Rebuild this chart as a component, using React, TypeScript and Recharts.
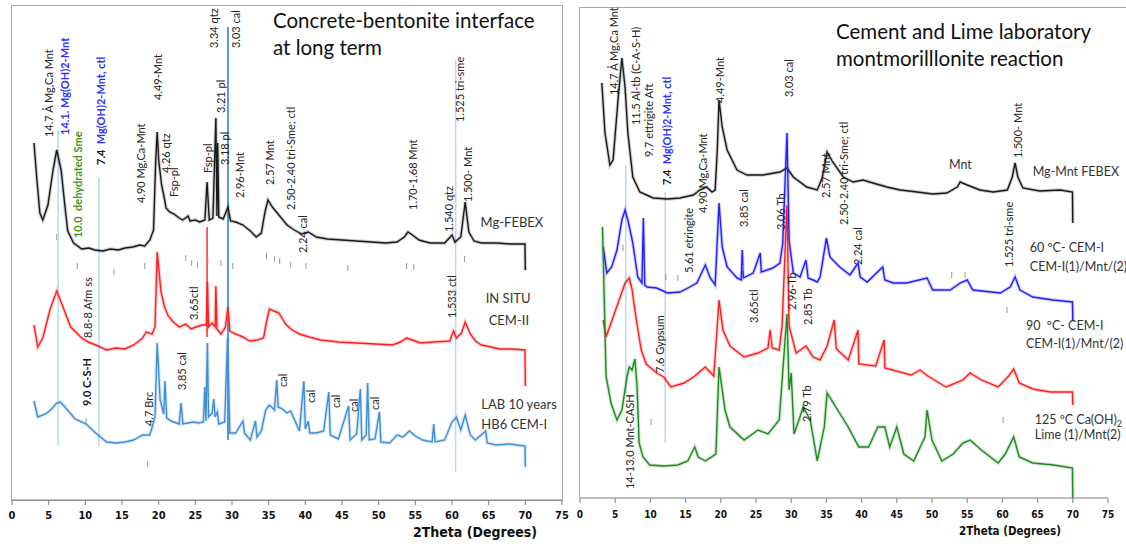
import React from "react";
import { ComposedChart, Line, Scatter, XAxis, YAxis, ReferenceLine } from "recharts";

// XRD patterns. x = 2Theta (deg), y = intensity (arbitrary units, stacked).
type Pt = [number, number];

const TICKS = [0, 5, 10, 15, 20, 25, 30, 35, 40, 45, 50, 55, 60, 65, 70, 75];

// ---- left panel: concrete-bentonite interface ----
const leftFebex: Pt[] = [
  [3.0, 354], [3.4, 317], [3.8, 284], [4.2, 277], [4.9, 292], [5.6, 327], [6.1, 347], [6.7, 327], [7.2, 292],
  [7.6, 266], [8.4, 254], [9.5, 248], [10.5, 249], [11.3, 247], [12.4, 246], [13.4, 248], [14.5, 247], [15.4, 249],
  [16.5, 250], [17.4, 252], [18.1, 251], [18.8, 257], [19.3, 267], [19.6, 337], [19.8, 365], [20.0, 337], [20.4, 312],
  [20.85, 296], [21.0, 289], [21.5, 285], [22.1, 283], [22.8, 279], [23.3, 277], [24.0, 281], [24.3, 276], [25.0, 277],
  [25.6, 275], [26.3, 277], [26.6, 315], [26.9, 277], [27.4, 279], [27.8, 379], [27.95, 281], [28.05, 354], [28.2, 280],
  [28.8, 278], [29.45, 290], [29.8, 276], [30.5, 275], [31.5, 272], [32.5, 266], [33.3, 260], [34.0, 264], [34.5, 285],
  [34.9, 297], [35.5, 290], [36.5, 281], [37.5, 272], [38.5, 267], [39.5, 263], [40.4, 265], [41.5, 260], [43, 258],
  [45, 257], [47, 256], [49, 255], [51, 254], [52.5, 255], [53.5, 260], [54, 265], [54.6, 262], [55.5, 257], [57, 254],
  [59, 254], [60.0, 262], [60.4, 255], [61.2, 260], [61.8, 295], [62.3, 265], [63, 256], [64, 254], [66, 254],
  [68, 253], [69.95, 253], [70.0, 227],
];
const leftInSitu: Pt[] = [
  [3.0, 172], [3.5, 150], [4.2, 159], [5.2, 188], [6.1, 206], [6.9, 191], [8.0, 170], [9.5, 159], [10.4, 155],
  [11.4, 152], [12.9, 147], [14.2, 149], [15.4, 148], [16.6, 152], [17.8, 159], [18.3, 165], [19.1, 163], [19.5, 170],
  [19.8, 245], [20.3, 206], [20.8, 190], [21.3, 181], [22.0, 175], [22.8, 170], [23.7, 173], [24.4, 168], [25.1, 170],
  [25.9, 172], [26.5, 172], [26.65, 215], [26.8, 170], [27.3, 174], [27.7, 170], [27.8, 211], [27.95, 168], [28.5, 163],
  [29.1, 170], [29.45, 190], [29.7, 166], [30.5, 163], [31.5, 160], [32.4, 156], [33.4, 157], [34.3, 159], [34.7, 175],
  [35.1, 188], [35.7, 186], [36.4, 184], [37.3, 173], [38.2, 167], [39.2, 163], [40.5, 160], [42.1, 157], [44.5, 155],
  [47, 154], [49.5, 153], [51.9, 152], [53.0, 155], [53.8, 159], [54.6, 157], [55.7, 154], [57.5, 155], [59.7, 156],
  [60.2, 166], [60.6, 159], [61.3, 164], [61.8, 175], [62.5, 163], [63.2, 156], [64, 152], [65.3, 150], [66.5, 148],
  [68.2, 148], [69.95, 147], [70.0, 111],
];
const leftLab: Pt[] = [
  [3.0, 96], [3.5, 80], [4.6, 83], [5.4, 88], [6.1, 94], [6.6, 95], [7.1, 91], [8.6, 78], [10.1, 73], [11.4, 64],
  [12.9, 55], [14.2, 54], [15.4, 55], [16.6, 57], [17.8, 62], [18.8, 62], [19.5, 80], [19.8, 154], [20.2, 97],
  [20.7, 83], [20.85, 116], [21.1, 79], [21.7, 76], [22.8, 73], [23.05, 94], [23.3, 73], [24.0, 74], [24.7, 75],
  [25.5, 74], [26.1, 75], [26.3, 110], [26.45, 76], [26.65, 154], [26.8, 80], [27.3, 84], [27.5, 98], [27.7, 80],
  [28.0, 85], [28.2, 73], [29.0, 75], [29.4, 160], [29.7, 64], [30.5, 64], [31.5, 76], [31.7, 64], [32.5, 57],
  [33.2, 76], [33.4, 60], [34.0, 66], [34.6, 87], [35.1, 92], [35.8, 87], [36.1, 117], [36.3, 90], [36.9, 88],
  [37.5, 84], [38.0, 86], [38.6, 76], [39.2, 66], [39.8, 116], [40.0, 68], [40.4, 76], [40.6, 64], [41.5, 64],
  [42.5, 66], [43.2, 105], [43.4, 62], [44.5, 58], [45.9, 91], [46.1, 57], [47.0, 63], [47.5, 108], [47.7, 57],
  [48.3, 62], [48.5, 114], [48.7, 57], [49.5, 58], [50.1, 85], [50.3, 55], [51.5, 54], [52.5, 62], [53.3, 60],
  [54.2, 66], [55.0, 61], [56, 57], [57.3, 55], [57.5, 73], [57.7, 55], [59, 57], [60.0, 75], [60.6, 80], [61.2, 67],
  [61.8, 82], [62.5, 62], [63.2, 57], [64.6, 66], [64.8, 54], [66, 52], [67.8, 53], [69.95, 51], [70.0, 30],
];

// ---- right panel: cement and lime laboratory reaction ----
const rightFebex: Pt[] = [
  [3.1, 409], [3.55, 359], [4.25, 327], [4.7, 332], [5.4, 392], [5.95, 434], [6.4, 405], [6.8, 359], [7.5, 315],
  [8.5, 300], [10.4, 294], [12.4, 293], [14.2, 294], [16.1, 297], [17.0, 302], [18.0, 305], [18.75, 300], [19.2, 302],
  [19.5, 342], [19.75, 392], [20.2, 365], [20.9, 342], [22.3, 322], [23.7, 317], [26.0, 317], [28.4, 320], [29.4, 324],
  [30.3, 315], [32.2, 305], [33.7, 302], [34.4, 314], [35.1, 340], [35.9, 330], [37.4, 315], [38.8, 310], [40.2, 312],
  [41.6, 309], [43.6, 305], [45.5, 302], [47.9, 300], [50.1, 298], [52.1, 299], [53.6, 305], [54.0, 310], [55.0, 307],
  [56.8, 302], [58.7, 300], [60.7, 302], [61.4, 315], [61.8, 329], [62.2, 315], [62.9, 304], [65.3, 301], [68.2, 302],
  [69.95, 300], [70.0, 269],
];
const right60: Pt[] = [
  [3.3, 245], [3.8, 219], [4.5, 225], [5.25, 242], [5.95, 272], [6.4, 282], [6.8, 272], [7.5, 249], [8.2, 215],
  [8.8, 209], [9.0, 274], [9.2, 207], [9.5, 205], [10.9, 204], [12.4, 199], [14.2, 200], [15.6, 205], [16.6, 209],
  [17.8, 227], [18.5, 214], [19.2, 207], [19.75, 289], [20.2, 245], [20.9, 225], [22.3, 214], [22.9, 212], [23.05, 242],
  [23.2, 214], [24.6, 219], [25.6, 239], [25.75, 220], [27.4, 224], [28.4, 229], [28.8, 249], [29.4, 359], [29.7, 252],
  [30.3, 219], [31.25, 215], [32.1, 232], [32.4, 214], [33.1, 212], [33.7, 210], [34.1, 215], [35.0, 254], [35.5, 235],
  [36.9, 225], [38.35, 217], [39.5, 229], [39.8, 215], [40.8, 210], [43.0, 225], [43.3, 212], [44.5, 209], [46.4, 209],
  [49.3, 214], [50.1, 202], [52.6, 202], [54.0, 209], [55.0, 212], [55.8, 202], [59.7, 199], [61.1, 205], [61.8, 215],
  [62.5, 202], [64.3, 195], [67.2, 192], [69.95, 190], [70.0, 172],
];
const right90: Pt[] = [
  [3.3, 172], [3.7, 155], [4.25, 166], [5.4, 189], [6.4, 209], [7.0, 214], [7.4, 202], [8.0, 172], [8.7, 142],
  [9.4, 128], [10.9, 119], [11.9, 115], [12.9, 105], [14.8, 109], [16.3, 116], [17.8, 125], [19.0, 116], [19.75, 192],
  [20.3, 162], [21.3, 146], [23.3, 135], [25.3, 139], [26.7, 144], [27.0, 162], [27.3, 144], [28.3, 142], [28.7, 166],
  [29.4, 287], [29.7, 166], [30.7, 139], [32.1, 146], [33.1, 135], [34.1, 132], [35.1, 146], [36.1, 172], [36.4, 144],
  [36.6, 142], [38.1, 132], [39.5, 162], [39.6, 128], [42.0, 126], [43.2, 152], [43.3, 124], [47.0, 117], [48.3, 122],
  [49.4, 116], [52.0, 105], [54.4, 112], [55.4, 119], [57.0, 112], [59.4, 105], [60.9, 116], [61.6, 123], [62.4, 109],
  [64.3, 103], [66.8, 100], [69.95, 100], [70.0, 87],
];
const right125: Pt[] = [
  [3.2, 265], [3.7, 116], [4.4, 89], [5.25, 72], [5.95, 82], [6.7, 116], [7.0, 125], [7.4, 122], [7.8, 133], [8.1, 106],
  [8.4, 49], [8.95, 35], [9.9, 27], [11.9, 26], [13.9, 27], [15.3, 31], [16.3, 45], [16.8, 35], [17.8, 31], [19.3, 38],
  [19.75, 125], [20.6, 82], [21.3, 65], [23.3, 52], [25.3, 62], [26.7, 58], [28.3, 72], [29.4, 178], [29.7, 102],
  [30.0, 119], [30.4, 58], [31.1, 72], [31.7, 85], [32.7, 72], [33.7, 31], [34.7, 65], [35.1, 99], [36.6, 82],
  [38.1, 65], [39.6, 45], [41.0, 45], [42.3, 65], [43.3, 65], [44.0, 45], [45.0, 65], [46.0, 38], [47.4, 31], [49.0, 55],
  [49.3, 82], [50.0, 52], [51.4, 31], [53.0, 38], [54.4, 49], [55.4, 52], [57.0, 42], [59.4, 29], [60.4, 38], [61.6, 55],
  [62.4, 35], [64.3, 29], [67.3, 27], [69.95, 24], [70.0, -6],
];

// vertical reference lines: [2Theta, top, bottom, colour, width]
const leftRefs: [number, number, number, string, number][] = [
  [6.3, 367, 51, "#bdd7ee", 1.5], [11.85, 320, 51, "#bdd7ee", 1.5], [26.6, 270, 160, "#ff2a2a", 1.5],
  [29.45, 470, 57, "#5b9bd5", 2], [60.5, 437, 25, "#bdd7ee", 1.5],
];
const rightRefs: [number, number, number, string, number][] = [
  [6.5, 327, 99, "#bdd7ee", 1.5], [12.1, 300, 49, "#bdd7ee", 1.5],
];

// short marker dashes below the patterns
const leftDashes: Pt[] = [
  [6.1, 260], [8.9, 231], [13.9, 225], [18.1, 231], [23.7, 239], [24.5, 234], [25.3, 232], [26.7, 236], [28.5, 234],
  [30.1, 231], [34.7, 241], [35.8, 238], [36.5, 236], [38.0, 232], [40.1, 231], [45.8, 229], [53.8, 231], [54.8, 230],
  [61.7, 238], [10.1, 76], [18.5, 33],
];
const rightDashes: Pt[] = [
  [6.1, 244], [12.2, 215], [13.9, 214], [23.15, 224], [29.5, 227], [52.8, 217], [54.7, 217], [60.65, 182], [10.1, 70],
  [60.1, 72],
];

// rotated peak labels: [2Theta, bottom of text, text, style]
const leftTags: [number, number, string, string][] = [
  [4.9, 360, "14.7 Å Mg,Ca Mnt", "k"], [7.1, 362, "14.1. Mg(OH)2-Mnt", "bb"], [8.85, 259, "10.0  dehydrated Sme", "gb"],
  [12.0, 332, "7.4  |Mg(OH)2-Mnt, ctl", "mix"], [17.4, 294, "4.90 Mg,Ca-Mnt", "k"], [19.75, 397, "4.49-Mnt", "k"],
  [20.85, 324, "4.26 qtz", "k"], [21.9, 300, "Fsp-pl", "k"], [26.55, 324, "Fsp-pl", "k"], [27.4, 449, "3.34 qtz", "k"],
  [28.3, 384, "3.21 pl", "k"], [28.9, 332, "3.18 pl", "k"], [30.4, 449, "3.03 cal", "k"], [30.9, 299, "2.96-Mnt", "k"],
  [35.0, 312, "2.57 Mnt", "k"], [37.9, 287, "2.50-2.40 tri-Sme; ctl", "k"], [39.5, 244, "2.24 cal", "k"],
  [54.5, 287, "1.70-1.68 Mnt", "k"], [59.5, 265, "1.540 qtz", "k"], [61.0, 375, "1.525 tri-sme", "k"],
  [62.1, 295, "1.500- Mnt", "k"], [10.2, 159, "8.8-8 Afm ss", "k"], [24.7, 177, "3.65ctl", "k"],
  [59.9, 179, "1.533 ctl", "k"], [10.1, 91, "9.0 C-S-H", "kb"], [23.0, 107, "3.85 cal", "k"], [18.5, 71, "4.7 Brc", "k"],
  [36.8, 110, "cal", "k"], [40.6, 94, "cal", "k"], [44.1, 89, "cal", "k"], [46.5, 85, "cal", "k"], [49.3, 87, "cal", "k"],
];
const rightTags: [number, number, string, string][] = [
  [4.7, 397, "14.7 Å Mg,Ca Mnt", "k"], [7.8, 367, "11.5 Al-tb (C-A-S-H)", "k"], [9.7, 335, "9.7 ettrigite Aft", "k"],
  [12.2, 307, "7.4  |Mg(OH)2-Mnt, ctl", "mix"], [17.3, 279, "4.90 Mg,Ca-Mnt", "k"], [19.75, 389, "4.49-Mnt", "k"],
  [23.15, 265, "3.85 cal", "k"], [28.4, 262, "3.06 Tb", "k"], [29.5, 395, "3.03 cal", "k"], [34.8, 294, "2.57 Mnt", "k"],
  [37.4, 267, "2.50-2.40 tri-Sme; ctl", "k"], [39.35, 227, "2.24 cal", "k"], [62.1, 334, "1.500- Mnt", "k"],
  [15.3, 219, "5.61 etringite", "k"], [24.6, 169, "3.65ctl", "k"], [30.0, 182, "2.96-Tb", "k"], [32.2, 167, "2.85 Tb", "k"],
  [60.8, 225, "1.525 tri-sme", "k"], [11.2, 119, "7.6 Gypsum", "k"], [7.0, 3, "14-13.0 Mnt-CASH", "k"],
  [32.1, 70, "2.79 Tb", "k"],
];

// horizontal sample names: [2Theta of text start, baseline, text]
const leftNames: [number, number, string][] = [
  [63.9, 270, "Mg-FEBEX"], [64.6, 194, "IN SITU"], [65.0, 172, "CEM-II"], [64.0, 88, "LAB 10 years"], [64.0, 68, "HB6 CEM-I"],
];
const rightNames: [number, number, string][] = [
  [52.4, 323, "Mnt"], [64.3, 316, "Mg-Mnt FEBEX"], [63.9, 240, "60 ºC- CEM-I"], [63.9, 221, "CEM-I(1)/Mnt/(2)"],
  [63.35, 162, "90  ºC- CEM-I"], [63.35, 144, "CEM-I(1)/Mnt/(2)"], [64.6, 68, "125 ºC Ca(OH)_2"], [64.6, 53, "Lime (1)/Mnt(2)"],
];

const FONT = "Lato, 'Open Sans', sans-serif";
const NARROW = "'Liberation Sans Narrow', 'DejaVu Sans Condensed', 'Liberation Sans', sans-serif";
const BLUE_TXT = "#2f2fff";

const TAG_STYLE: Record<string, { fill: string; weight: number }> = {
  k: { fill: "#262626", weight: 400 },
  kb: { fill: "#111", weight: 700 },
  bb: { fill: BLUE_TXT, weight: 700 },
  gb: { fill: "#4b8f1d", weight: 700 },
};

const rows = (pts: Pt[]) => pts.map(([x, y]) => ({ x, y }));

function VTag(props: any) {
  const { cx, cy, payload } = props;
  if (cx == null || cy == null) return null;
  const t: string = payload.t;
  const body =
    payload.s === "mix" ? (
      <>
        <tspan fill="#111" fontWeight={700}>{t.split("|")[0]}</tspan>
        <tspan fill={BLUE_TXT} fontWeight={700}>{t.split("|")[1]}</tspan>
      </>
    ) : (
      <tspan fill={TAG_STYLE[payload.s].fill} fontWeight={TAG_STYLE[payload.s].weight}>{t}</tspan>
    );
  return (
    <text
      x={cx}
      y={cy}
      transform={`rotate(-90 ${cx} ${cy})`}
      dominantBaseline="central"
      fontFamily={FONT}
      fontSize={11}
      style={{ whiteSpace: "pre" }}
    >
      {body}
    </text>
  );
}

function NameTag(props: any) {
  const { cx, cy, payload, size } = props;
  if (cx == null || cy == null) return null;
  const [main, sub] = (payload.t as string).split("_");
  return (
    <text x={cx} y={cy} fontFamily={FONT} fontSize={size} fill="#333" style={{ whiteSpace: "pre" }}>
      {main}
      {sub && (
        <tspan fontSize={9} dy={3}>
          {sub}
        </tspan>
      )}
    </text>
  );
}

function Dash(props: any) {
  const { cx, cy } = props;
  if (cx == null || cy == null) return null;
  return <line x1={cx} x2={cx} y1={cy - 3} y2={cy + 3} stroke="#9a9a9a" strokeWidth={1} />;
}

type Series = { pts: Pt[]; color: string };

function Panel(p: {
  left: number;
  width: number;
  margin: { top: number; right: number; bottom: number; left: number };
  yDomain: [number, number];
  series: Series[];
  refs: [number, number, number, string, number][];
  dashes: Pt[];
  tags: [number, number, string, string][];
  names: [number, number, string][];
  tickFont: number;
  tickMargin: number;
  nameFont: number;
}) {
  return (
    <div style={{ position: "absolute", left: p.left, top: 0 }}>
      <ComposedChart width={p.width} height={544} margin={p.margin}>
        <XAxis
          type="number"
          dataKey="x"
          domain={[0, 75]}
          ticks={TICKS}
          height={40}
          axisLine={{ stroke: "#7f7f7f", strokeWidth: 1.2 }}
          tickLine={{ stroke: "#7f7f7f" }}
          tickSize={5}
          tickMargin={p.tickMargin}
          tick={{ fill: "#111", fontSize: p.tickFont, fontWeight: 700, fontFamily: NARROW }}
        />
        <YAxis type="number" dataKey="y" domain={p.yDomain} hide />
        {p.refs.map(([x, y1, y2, c, w], i) => (
          <ReferenceLine
            key={`r${i}`}
            segment={[
              { x, y: y1 },
              { x, y: y2 },
            ]}
            stroke={c}
            strokeWidth={w}
            ifOverflow="visible"
          />
        ))}
        {/* soft halo under each pattern, standing in for the counting noise */}
        {p.series.map((s, i) => (
          <Line
            key={`h${i}`}
            data={rows(s.pts)}
            dataKey="y"
            type="linear"
            stroke={s.color}
            strokeOpacity={0.22}
            strokeWidth={3.5}
            dot={false}
            activeDot={false}
            isAnimationActive={false}
          />
        ))}
        {p.series.map((s, i) => (
          <Line
            key={`s${i}`}
            data={rows(s.pts)}
            dataKey="y"
            type="linear"
            stroke={s.color}
            strokeWidth={1.4}
            dot={false}
            isAnimationActive={false}
          />
        ))}
        <Scatter
          data={rows(p.dashes)}
          dataKey="y"
          shape={(q: any) => <Dash {...q} />}
          isAnimationActive={false}
        />
        <Scatter
          data={p.tags.map(([x, y, t, s]) => ({ x, y, t, s }))}
          dataKey="y"
          shape={(q: any) => <VTag {...q} />}
          isAnimationActive={false}
        />
        <Scatter
          data={p.names.map(([x, y, t]) => ({ x, y, t }))}
          dataKey="y"
          shape={(q: any) => <NameTag {...q} size={p.nameFont} />}
          isAnimationActive={false}
        />
      </ComposedChart>
    </div>
  );
}

export default function App() {
  return (
    <div
      style={{
        position: "absolute",
        left: 0,
        top: 0,
        width: 1126,
        height: 544,
        background: "#fff",
        overflow: "hidden",
        fontFamily: FONT,
      }}
    >
      {/* panel frames */}
      <div
        style={{
          position: "absolute",
          left: 11,
          top: 5,
          width: 552,
          height: 496,
          border: "1.5px solid #a8a8a8",
          boxSizing: "border-box",
        }}
      />
      <div
        style={{
          position: "absolute",
          left: 579,
          top: 7,
          width: 547,
          height: 491,
          borderTop: "1.5px solid #a8a8a8",
          borderLeft: "1.5px solid #a8a8a8",
          boxSizing: "border-box",
        }}
      />

      <Panel
        left={0}
        width={575}
        margin={{ top: 5, right: 13, bottom: 4, left: 12 }}
        yDomain={[-3, 492]}
        series={[
          { pts: leftFebex, color: "#1a1a1a" },
          { pts: leftInSitu, color: "#ff1f1f" },
          { pts: leftLab, color: "#3f8fd8" },
        ]}
        refs={leftRefs}
        dashes={leftDashes}
        tags={leftTags}
        names={leftNames}
        tickFont={11}
        tickMargin={6}
        nameFont={13}
      />
      <Panel
        left={570}
        width={556}
        margin={{ top: 8, right: 18, bottom: 6, left: 10 }}
        yDomain={[-6, 484]}
        series={[
          { pts: rightFebex, color: "#1a1a1a" },
          { pts: right60, color: "#1f1fff" },
          { pts: right90, color: "#ff1f1f" },
          { pts: right125, color: "#1e8c1e" },
        ]}
        refs={rightRefs}
        dashes={rightDashes}
        tags={rightTags}
        names={rightNames}
        tickFont={10}
        tickMargin={8}
        nameFont={12.5}
      />

      {/* panel titles */}
      <div style={{ position: "absolute", left: 273, top: 7, fontSize: 20.5, lineHeight: "27px", color: "#111" }}>
        Concrete-bentonite interface
        <br />
        at long term
      </div>
      <div style={{ position: "absolute", left: 836, top: 18, fontSize: 20.5, lineHeight: "27px", color: "#111" }}>
        Cement and Lime laboratory
        <br />
        montmorilllonite reaction
      </div>

      {/* axis titles */}
      <div
        style={{
          position: "absolute",
          left: 475,
          top: 532,
          transform: "translate(-50%, -50%)",
          fontFamily: NARROW,
          fontWeight: 700,
          fontSize: 14,
          color: "#111",
          whiteSpace: "nowrap",
        }}
      >
        2Theta (Degrees)
      </div>
      <div
        style={{
          position: "absolute",
          left: 1010,
          top: 531,
          transform: "translate(-50%, -50%)",
          fontFamily: NARROW,
          fontWeight: 700,
          fontSize: 11.5,
          color: "#111",
          whiteSpace: "nowrap",
        }}
      >
        2Theta (Degrees)
      </div>
    </div>
  );
}
